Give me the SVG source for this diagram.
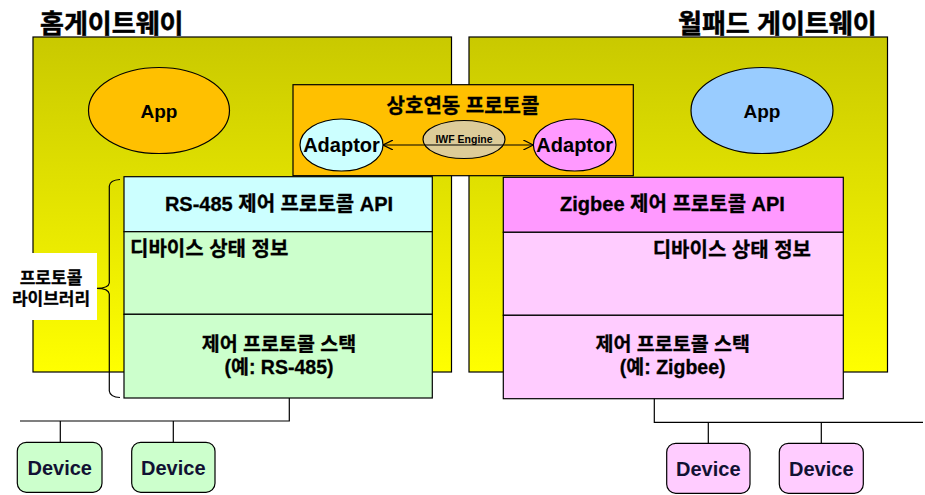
<svg xmlns="http://www.w3.org/2000/svg" width="925" height="495" viewBox="0 0 925 495">
<style>
text{font-family:"Liberation Sans","Noto Sans CJK KR",sans-serif;font-weight:bold;fill:#000}
.title{font-size:26px;stroke:#000;stroke-width:0.5}
.lbl{font-size:19.5px;stroke:#000;stroke-width:0.3}
.ln{stroke:#000;stroke-width:1.2;fill:none}
.box{stroke:#000;stroke-width:1.2}
.dev{font-size:20px;fill:#111133}
</style>
<defs>
<linearGradient id="gw" x1="0" y1="0" x2="0" y2="1">
<stop offset="0" stop-color="#c9c900"/>
<stop offset="1" stop-color="#ffff00"/>
</linearGradient>
<marker id="ah" viewBox="0 0 10 10" refX="10" refY="5" markerWidth="10" markerHeight="10" markerUnits="userSpaceOnUse" orient="auto-start-reverse">
<path d="M0,0 L10,5 L0,10" fill="none" stroke="#000" stroke-width="1.2"/>
</marker>
</defs>

<g id="home-gateway">
<rect x="33" y="37" width="418.5" height="335" fill="url(#gw)" class="box"/>
<text class="title" x="40" y="33">홈게이트웨이</text>
</g>
<g id="wallpad-gateway">
<rect x="469" y="37" width="418.5" height="335" fill="url(#gw)" class="box"/>
<text class="title" x="678" y="33">월패드 게이트웨이</text>
</g>

<g id="app-left">
<ellipse cx="159" cy="110.5" rx="70.5" ry="43" fill="#ffc000" class="box"/>
<text x="159" y="118" text-anchor="middle" style="font-size:19px">App</text>
</g>
<g id="app-right">
<ellipse cx="762" cy="110.5" rx="71" ry="43" fill="#99ccff" class="box"/>
<text x="762" y="118" text-anchor="middle" style="font-size:19px">App</text>
</g>

<g id="interop">
<rect x="293" y="84.7" width="340.3" height="91" fill="#ffc000" class="box"/>
<text class="lbl" x="463" y="113" text-anchor="middle" style="font-size:20px">상호연동 프로토콜</text>
</g>
<g id="adaptor-left">
<ellipse cx="341.5" cy="145" rx="41.5" ry="26" fill="#ccffff" class="box"/>
<text x="341.5" y="152" text-anchor="middle" style="font-size:20px">Adaptor</text>
</g>
<g id="iwf-engine">
<ellipse cx="464" cy="139.5" rx="41" ry="19" fill="#ddcc99" class="box"/>
<text x="464" y="142.5" text-anchor="middle" style="font-size:10.5px">IWF Engine</text>
</g>
<g id="adaptor-right">
<ellipse cx="574.7" cy="145" rx="41.3" ry="26" fill="#ff99ff" class="box"/>
<text x="574.7" y="152" text-anchor="middle" style="font-size:20px">Adaptor</text>
</g>

<g id="stack-left">
<rect x="124" y="176.7" width="308.3" height="55" fill="#ccffff" class="box"/>
<rect x="124" y="231.7" width="308.3" height="82.6" fill="#ccffcc" class="box"/>
<rect x="124" y="314.3" width="308.3" height="83.7" fill="#ccffcc" class="box"/>
<text class="lbl" x="279" y="211" text-anchor="middle" style="font-size:20px">RS-485 제어 프로토콜 API</text>
<text class="lbl" x="130" y="256" style="font-size:20px">디바이스 상태 정보</text>
<text class="lbl" x="279" y="351" text-anchor="middle">제어 프로토콜 스택</text>
<text class="lbl" x="279" y="374" text-anchor="middle">(예: RS-485)</text>
</g>
<g id="stack-right">
<rect x="503.3" y="177.3" width="340" height="55" fill="#ff99ff" class="box"/>
<rect x="503.3" y="232.3" width="340" height="83" fill="#ffccff" class="box"/>
<rect x="503.3" y="315.3" width="340" height="83.4" fill="#ffccff" class="box"/>
<text class="lbl" x="672.5" y="211" text-anchor="middle" style="font-size:20px">Zigbee 제어 프로토콜 API</text>
<text class="lbl" x="652.7" y="257" style="font-size:20px">디바이스 상태 정보</text>
<text class="lbl" x="672.7" y="351" text-anchor="middle">제어 프로토콜 스택</text>
<text class="lbl" x="672.7" y="374" text-anchor="middle">(예: Zigbee)</text>
</g>

<g id="protocol-library">
<rect x="8" y="253" width="89" height="67" fill="#fff"/>
<text class="lbl" x="51" y="284" text-anchor="middle" style="font-size:17px">프로토콜</text>
<text class="lbl" x="51" y="305" text-anchor="middle" style="font-size:17px">라이브러리</text>
</g>

<g id="device-1">
<rect x="17.3" y="442.3" width="84.7" height="50" rx="9" fill="#ccffcc" class="box"/>
<text class="dev" x="59.7" y="475" text-anchor="middle">Device</text>
</g>
<g id="device-2">
<rect x="131.7" y="442.3" width="83.3" height="50" rx="9" fill="#ccffcc" class="box"/>
<text class="dev" x="173.3" y="475" text-anchor="middle">Device</text>
</g>
<g id="device-3">
<rect x="666.7" y="443.3" width="83.3" height="50" rx="9" fill="#ffccff" class="box"/>
<text class="dev" x="708.3" y="476" text-anchor="middle">Device</text>
</g>
<g id="device-4">
<rect x="779.3" y="443.3" width="84" height="50" rx="9" fill="#ffccff" class="box"/>
<text class="dev" x="821.3" y="476" text-anchor="middle">Device</text>
</g>

<g id="connectors">
<line class="ln" x1="383" y1="145" x2="533.3" y2="145" marker-start="url(#ah)" marker-end="url(#ah)"/>
<path class="ln" d="M120,179.5 Q110,180 109.3,186 L109.3,283 Q108.5,288.3 97,288.3 Q108.5,288.3 109.3,294 L109.3,391 Q110,397 120,397.5"/>
<path class="ln" d="M289.3,398 V421 H20 M60.3,421 V442.3 M173.3,421 V442.3"/>
<path class="ln" d="M654.3,398.7 V422.3 H923 M708.3,422.3 V443.3 M821.3,422.3 V443.3"/>
</g>
</svg>
